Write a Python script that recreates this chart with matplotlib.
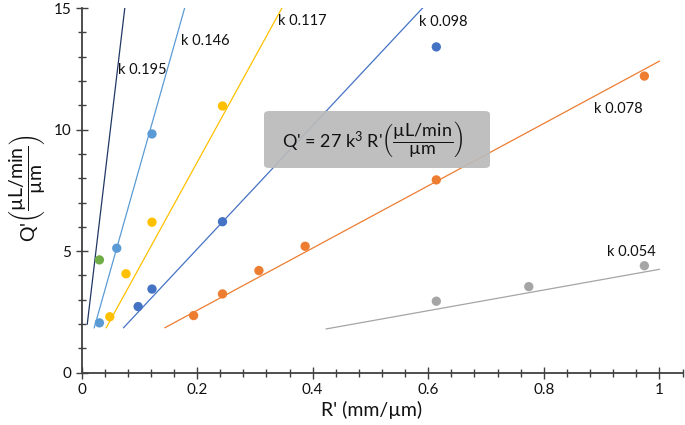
import matplotlib
matplotlib.use("Agg")
import matplotlib.pyplot as plt
from matplotlib.patches import FancyBboxPatch
from matplotlib.ticker import MultipleLocator
import numpy as np

plt.rcParams['font.family'] = ['Lato', 'DejaVu Sans']
plt.rcParams['mathtext.fontset'] = 'custom'
plt.rcParams['mathtext.rm'] = 'Lato'
plt.rcParams['mathtext.it'] = 'Lato'

# k values of the fitted lines, Q' = 27 k^3 R' (k in mm -> 27000 k^3 here)
k_values = [0.195, 0.146, 0.117, 0.098, 0.078, 0.054]
k_labels = ["k 0.195", "k 0.146", "k 0.117", "k 0.098", "k 0.078", "k 0.054"]
line_colors = ['#203864', '#5b9bd5', '#ffc000', '#4472c4', '#ed7d31', '#a5a5a5']
line_ymin = [2.0, 1.85, 1.85, 1.85, 1.85, 1.8]

# measured points
r_146 = [0.031, 0.061, 0.122]
q_146 = [2.05, 5.12, 9.82]
r_117 = [0.049, 0.077, 0.122, 0.244]
q_117 = [2.3, 4.07, 6.19, 10.97]
r_098 = [0.098, 0.122, 0.244, 0.614]
q_098 = [2.72, 3.44, 6.21, 13.4]
r_078 = [0.194, 0.244, 0.307, 0.387, 0.614, 0.974]
q_078 = [2.35, 3.24, 4.2, 5.2, 7.93, 12.2]
r_054 = [0.614, 0.774, 0.974]
q_054 = [2.94, 3.54, 4.4]
r_195 = [0.031]
q_195 = [4.64]

fig = plt.figure(figsize=(6.85, 4.25), dpi=100)
ax = fig.add_axes([81.5 / 685, 52.3 / 425, 601 / 685, 364.7 / 425])

# fitted lines
for k, c, y0 in zip(k_values, line_colors, line_ymin):
    slope = 27000 * k ** 3
    x_start = y0 / slope
    x_end = min(15 / slope, 1.0)
    xs = np.array([x_start, x_end])
    ax.plot(xs, slope * xs, color=c, lw=0.9, zorder=2)

# points
pts = [(r_195, q_195, '#70ad47'), (r_146, q_146, '#5b9bd5'),
       (r_117, q_117, '#ffc000'), (r_098, q_098, '#4472c4'),
       (r_078, q_078, '#ed7d31'), (r_054, q_054, '#a5a5a5')]
for xs, ys, c in pts:
    ax.scatter(xs, ys, s=45, color=c, edgecolors='none', zorder=3)

# k labels
label_pos = [(0.063, 12.46), (0.172, 13.65), (0.340, 14.47),
             (0.584, 14.43), (0.887, 10.85), (0.909, 4.97)]
for txt, (x, y) in zip(k_labels, label_pos):
    ax.text(x, y, txt, fontsize=10.5, ha='left', va='center', color='#111111', zorder=5)

ax.set_xlim(0, 1.04)
ax.set_ylim(0, 15)
ax.xaxis.set_major_locator(MultipleLocator(0.2))
ax.xaxis.set_minor_locator(MultipleLocator(0.04))
ax.yaxis.set_major_locator(MultipleLocator(5))
ax.yaxis.set_minor_locator(MultipleLocator(1))
ax.set_xticks([0, 0.2, 0.4, 0.6, 0.8, 1.0])
ax.set_xticklabels(['0', '0.2', '0.4', '0.6', '0.8', '1'])
ax.tick_params(which='both', direction='inout', color='#404040', width=1.0, labelsize=11,
               labelcolor='#111111')
ax.tick_params(which='major', length=8)
ax.tick_params(which='minor', length=6)
for side in ['top', 'right']:
    ax.spines[side].set_visible(False)
for side in ['left', 'bottom']:
    ax.spines[side].set_color('#404040')
    ax.spines[side].set_linewidth(1.3)

# equation box
box = FancyBboxPatch((264 / 685, 1 - 168 / 425), 226 / 685, 57 / 425,
                     boxstyle="round,pad=0,rounding_size=0.008",
                     transform=fig.transFigure, facecolor='#bababa', edgecolor='none',
                     alpha=0.92, zorder=10)
fig.patches.append(box)
fig.text(373 / 685, 1 - 139.5 / 425,
         r"Q' = 27 k$^3$ R'$\left(\dfrac{\mathrm{µL/min}}{\mathrm{µm}}\right)$",
         fontsize=13, ha='center', va='center', color='#111111', zorder=11)

# axis titles
fig.text(28 / 685, 1 - 188 / 425,
         r"Q'$\left(\dfrac{\mathrm{µL/min}}{\mathrm{µm}}\right)$",
         fontsize=14, rotation=90, ha='center', va='center', color='#111111')
fig.text(372 / 685, 1 - 410 / 425, "R' (mm/µm)", fontsize=14,
         ha='center', va='center', color='#111111')

fig.savefig("out.png", dpi=100)
